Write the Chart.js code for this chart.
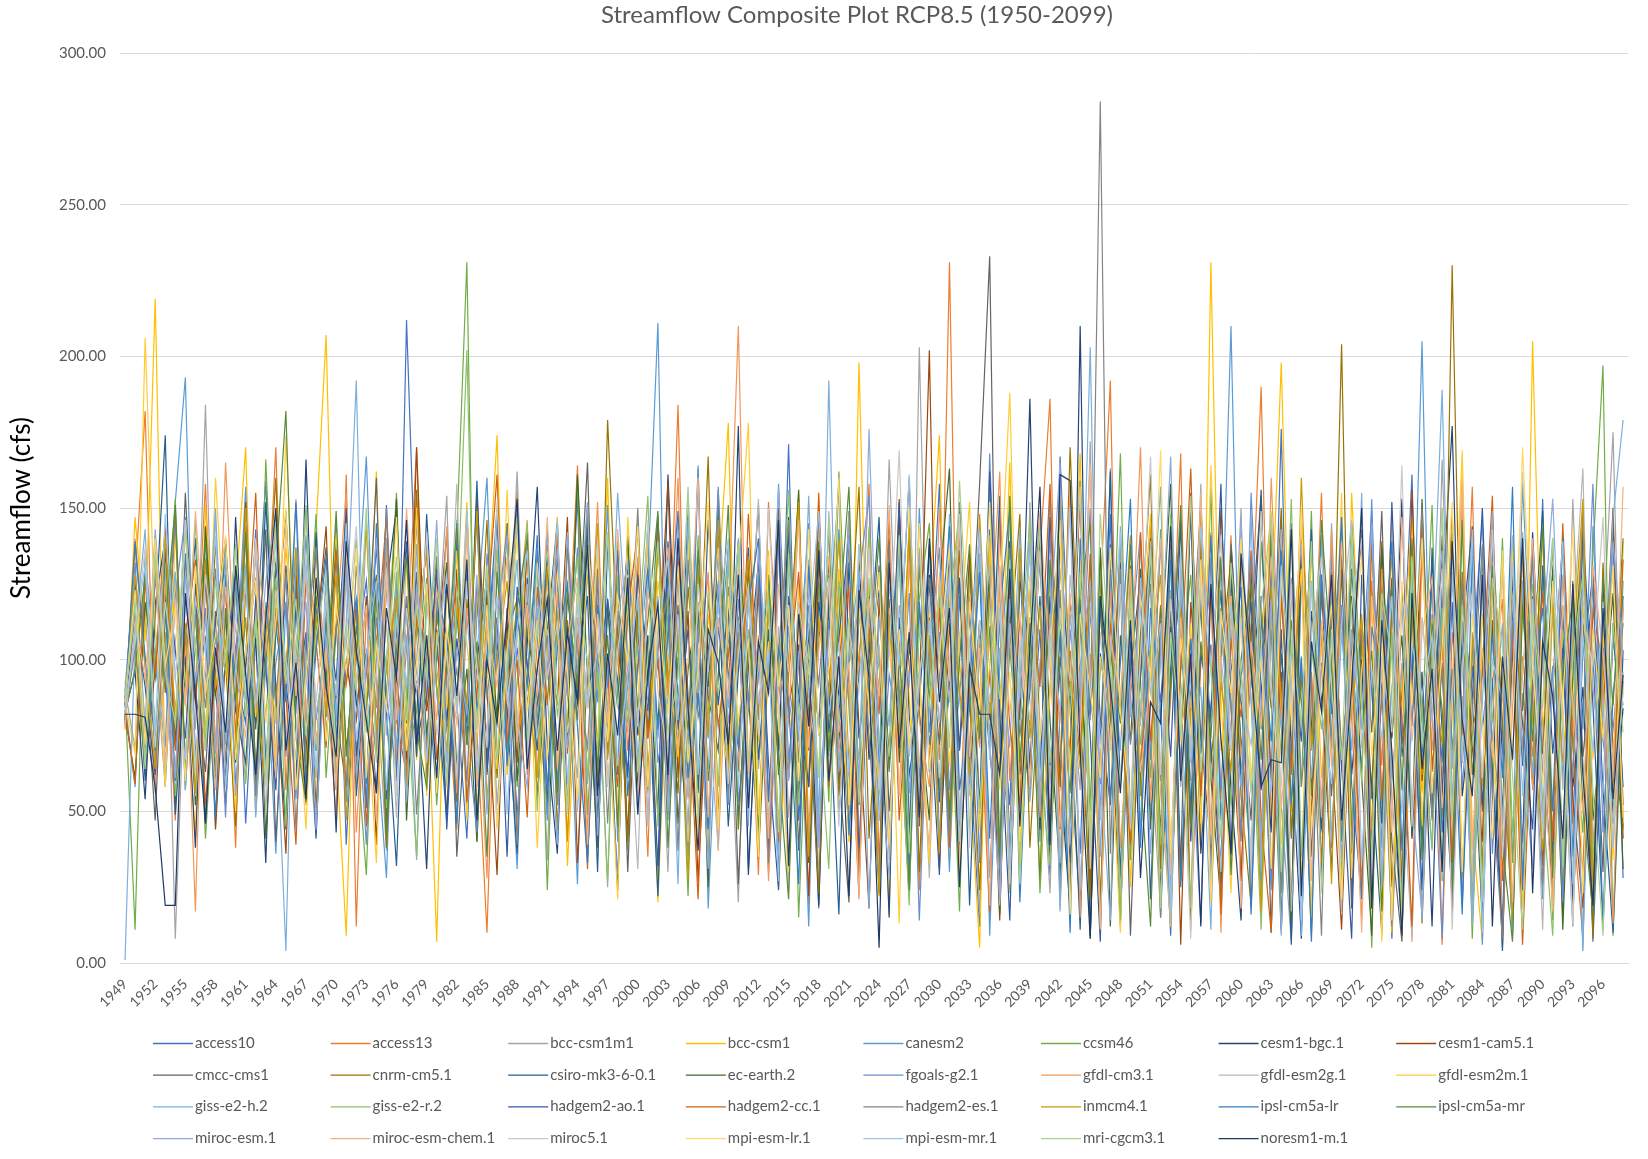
<!DOCTYPE html>
<html>
<head>
<meta charset="utf-8">
<title>Streamflow Composite Plot RCP8.5 (1950-2099)</title>
<script src="https://cdn.jsdelivr.net/npm/chart.js@4.4.1/dist/chart.umd.min.js"></script>
<style>
  html, body { margin: 0; padding: 0; background: #ffffff; }
  #wrap { width: 1648px; height: 1159px; }
</style>
</head>
<body>
<div id="wrap"><canvas id="chart" width="1648" height="1159"></canvas></div>
<script>
// Water years shown on the category axis
const firstYear = 1949;
const lastYear = 2098;
const years = [];
for (let y = firstYear; y <= lastYear; y++) years.push(String(y));

const chartTitle = 'Streamflow Composite Plot RCP8.5 (1950-2099)';
const yAxisTitle = 'Streamflow (cfs)';

const modelNames = [
  'access10', 'access13', 'bcc-csm1m1', 'bcc-csm1', 'canesm2', 'ccsm46', 'cesm1-bgc.1', 'cesm1-cam5.1',
  'cmcc-cms1', 'cnrm-cm5.1', 'csiro-mk3-6-0.1', 'ec-earth.2', 'fgoals-g2.1', 'gfdl-cm3.1', 'gfdl-esm2g.1', 'gfdl-esm2m.1',
  'giss-e2-h.2', 'giss-e2-r.2', 'hadgem2-ao.1', 'hadgem2-cc.1', 'hadgem2-es.1', 'inmcm4.1', 'ipsl-cm5a-lr', 'ipsl-cm5a-mr',
  'miroc-esm.1', 'miroc-esm-chem.1', 'miroc5.1', 'mpi-esm-lr.1', 'mpi-esm-mr.1', 'mri-cgcm3.1', 'noresm1-m.1'
];

const modelColors = [
  '#4472C4', '#ED7D31', '#A5A5A5', '#FFC000', '#5B9BD5', '#70AD47', '#264478', '#9E480E',
  '#636363', '#997300', '#255E91', '#43682B', '#698ED0', '#F1975A', '#B7B7B7', '#FFCD33',
  '#7CAFDD', '#8CC168', '#335AA1', '#D26012', '#848484', '#CC9A00', '#327DC3', '#5A8A39',
  '#8FAADC', '#F4B183', '#C9C9C9', '#FFD966', '#9DC3E6', '#A9D18E', '#203864'
];

const yTicks = [0, 50, 100, 150, 200, 250, 300];

// Annual streamflow (cfs), one array per climate model, 1949-2098
const access10 = [
  84,112,67,138,95,52,121,88,143,71, 99,128,46,107,159,63,92,134,58,117,
  81,145,39,102,126,74,151,60,212,113, 97,55,132,86,41,118,94,147,67,104,
  73,136,49,122,88,154,35,96,119,62, 141,78,105,27,130,90,58,163,44,111,
  85,139,31,98,124,66,171,47,93,18, 127,76,149,38,108,61,135,82,22,116,
  94,158,43,121,69,12,143,87,52,131, 64,110,29,167,91,36,125,73,148,15,
  102,57,134,83,9,118,45,152,71,26, 139,88,33,112,61,176,41,97,14,128,
  72,145,24,106,54,131,8,89,161,37, 115,66,142,19,98,50,137,77,11,124,
  59,153,32,101,46,119,7,85,140,28
];
const access13 = [
  78,126,182,64,109,47,133,91,158,69, 117,38,144,86,102,170,57,123,79,136,
  95,48,161,12,118,84,140,66,103,170, 58,127,92,44,149,76,10,113,87,156,
  62,105,138,53,96,164,41,121,80,133, 70,112,35,146,89,184,55,99,128,46,
  137,74,109,29,152,93,61,118,19,142, 85,124,50,97,158,33,115,71,139,24,
  104,67,231,42,129,88,15,147,60,113, 78,135,186,26,94,152,39,121,192,20,
  110,63,144,35,87,168,11,99,125,54, 141,28,106,190,47,92,9,133,72,155,
  38,117,81,14,126,65,149,22,98,57, 134,6,109,75,157,31,92,120,13,101,
  68,143,25,113,48,8,130,79,36,118
];
const bccCsm1m1 = [
  90,71,118,56,134,8,102,77,184,63, 112,89,141,49,97,126,68,153,84,42,
  131,75,108,59,146,93,37,119,81,138, 66,101,154,45,114,79,129,52,96,162,
  71,117,34,135,88,61,148,99,25,124, 83,145,56,107,30,131,76,118,41,156,
  92,20,127,64,103,143,48,86,133,27, 115,72,149,39,98,58,166,81,21,203,
  63,125,44,108,87,16,141,69,119,35, 152,78,23,130,95,57,172,13,106,84,
  46,139,71,17,123,92,60,158,30,111, 76,150,18,99,134,52,7,127,86,43,
  145,63,110,26,94,137,55,12,121,80, 37,166,70,104,22,128,59,95,9,142,
  81,49,116,33,153,67,14,108,175,44
];
const bccCsm1 = [
  80,147,106,219,61,129,88,42,151,97, 66,122,170,53,110,79,137,94,59,143,
  207,71,9,118,85,162,50,104,131,67, 98,7,125,83,152,46,114,174,62,93,
  135,55,108,147,32,96,128,71,160,48, 117,84,139,20,102,65,150,90,37,124,
  178,44,109,73,136,25,97,155,58,115, 81,130,40,198,69,103,16,145,87,52,
  120,174,33,100,61,5,139,77,165,29, 108,54,131,18,92,168,42,116,71,137,
  25,99,148,63,12,119,83,37,231,70, 93,47,127,15,109,198,75,28,138,61,
  102,20,155,86,41,122,10,95,147,56, 114,31,80,162,44,7,131,69,101,23,
  205,76,118,37,90,150,16,124,62,139
];
const canesm2 = [
  86,58,134,99,71,152,193,64,117,45, 128,93,157,61,104,36,119,82,141,70,
  96,133,53,112,167,74,28,125,89,146, 57,103,81,139,48,115,160,69,92,31,
  122,77,144,59,106,26,135,86,151,40, 99,64,128,211,47,110,72,164,18,95,
  137,53,84,121,34,158,79,102,12,126, 68,143,91,23,117,56,134,85,43,150,
  76,109,30,127,62,145,9,98,137,51, 114,40,156,73,19,132,88,60,163,27,
  105,142,49,87,14,121,67,138,35,96, 210,58,112,24,147,79,8,129,91,45,
  136,17,101,64,153,38,118,10,83,205, 52,124,29,97,140,6,112,70,35,158,
  88,21,131,61,109,4,144,73,50,126
];
const ccsm46 = [
  88,11,131,77,102,153,62,120,41,96, 139,70,114,55,166,87,47,124,93,148,
  61,109,136,73,29,118,98,155,66,83, 127,52,101,142,231,40,112,79,145,58,
  95,133,24,116,76,160,49,103,85,139, 37,121,91,148,64,107,22,130,80,155,
  59,100,134,42,118,71,146,15,97,125, 53,162,84,31,110,68,139,92,26,120,
  145,57,98,17,131,75,159,40,104,63, 127,23,90,152,46,115,8,135,78,168,
  34,109,61,143,20,96,128,52,157,13, 116,74,33,139,87,10,124,58,149,29,
  98,141,45,107,5,132,66,19,117,79, 151,27,92,126,8,103,56,140,33,89,
  61,128,14,107,76,43,135,197,9,93
];
const cesm1Bgc = [
  83,96,54,118,140,72,101,38,126,89, 61,147,79,107,33,132,94,58,166,70,
  115,43,138,85,102,56,124,150,67,93, 31,119,78,141,52,99,128,64,113,47,
  105,157,71,36,122,89,143,59,96,24, 130,75,108,49,161,83,40,117,91,137,
  63,177,29,98,125,70,147,54,109,19, 120,88,44,134,67,102,15,149,81,55,
  128,36,95,151,58,113,72,27,139,80, 186,44,121,63,17,210,9,102,76,132,
  49,94,138,22,111,65,150,36,84,123, 57,14,129,92,43,145,70,8,116,87,
  30,137,62,100,19,126,74,153,41,96, 12,118,177,55,86,26,131,68,103,39,
  142,73,22,115,58,91,11,127,46,84
];
const cesm1Cam5 = [
  79,123,64,97,141,52,110,86,133,44, 101,75,152,60,118,92,36,128,70,106,
  144,57,99,80,121,39,135,95,62,170, 83,110,48,130,73,155,90,29,117,66,
  138,54,103,86,147,33,96,124,69,112, 42,131,77,99,158,61,116,27,94,143,
  70,109,51,126,35,150,84,105,22,133, 97,59,141,78,18,120,67,153,44,88,
  202,31,112,71,135,49,97,14,126,82, 56,148,37,101,69,159,25,118,90,12,
  131,64,98,43,144,6,119,75,38,150, 84,27,109,154,58,96,17,136,48,122,
  69,11,103,141,35,88,127,24,156,60, 97,133,16,112,71,40,148,5,104,67,
  121,32,93,139,54,18,110,81,150,41
];
const cmccCms1 = [
  85,138,98,47,122,71,155,90,63,116, 52,104,130,77,143,40,99,125,68,108,
  137,82,58,119,95,160,46,111,74,129, 61,101,142,35,88,123,66,150,79,43,
  115,92,54,136,72,104,165,48,97,127, 30,109,83,147,60,118,41,139,88,70,
  124,26,102,151,55,93,134,37,112,78, 143,63,20,117,86,131,50,98,160,45,
  107,72,136,28,94,158,233,19,121,62, 89,145,34,110,68,17,132,81,52,127,
  9,96,140,60,116,32,155,73,105,21, 138,86,47,121,10,102,67,143,35,99,
  55,130,18,112,76,149,40,7,123,91, 48,141,70,105,24,135,62,13,118,83,
  137,42,97,15,126,68,102,30,145,52
];
const cnrmCm5 = [
  81,105,62,130,89,148,57,115,76,138, 99,45,124,84,107,160,69,95,132,51,
  118,87,142,64,100,128,38,112,79,156, 70,134,93,53,120,86,146,61,108,120,
  66,97,131,44,113,80,152,58,179,103, 40,116,74,139,95,56,124,85,167,48,
  109,72,131,36,98,147,61,119,83,23, 128,55,102,157,41,93,120,68,145,30,
  114,79,51,136,89,24,125,63,104,148, 38,97,129,58,170,82,21,118,73,139,
  47,108,161,31,92,125,14,141,66,100, 133,55,19,117,84,150,42,96,9,128,
  71,204,36,110,57,139,25,88,119,13, 94,48,230,66,105,29,143,79,11,120,
  59,101,137,23,84,118,8,132,71,45
];
const csiroMk3 = [
  87,126,60,113,174,49,96,140,70,108, 133,58,101,79,152,91,44,118,64,142,
  75,110,131,55,99,137,83,32,121,68, 148,90,47,116,72,159,63,105,84,36,
  127,78,109,145,52,98,121,30,139,87, 61,133,94,22,115,70,148,56,103,125,
  45,96,137,67,110,28,143,81,58,119, 90,16,132,74,101,147,39,114,62,85,
  138,53,92,127,19,108,70,154,34,99, 66,121,43,140,87,11,118,59,162,28,
  106,80,135,15,97,146,50,120,71,33, 127,62,92,156,26,110,6,138,79,44,
  116,30,145,86,59,10,123,68,101,37, 133,77,21,109,144,52,94,4,128,65,
  98,149,36,112,17,85,125,57,10,103
];
const ecEarth2 = [
  82,61,119,94,137,73,108,52,144,88, 115,66,98,127,41,109,149,78,56,121,
  93,139,70,104,59,126,86,153,47,114, 76,102,132,64,97,40,123,81,145,60,
  110,87,53,129,74,161,95,38,117,84, 140,58,105,79,133,46,97,119,25,151,
  69,113,88,41,127,62,99,156,33,107, 131,77,54,118,92,23,140,66,104,83,
  47,125,163,37,98,72,131,16,115,90, 57,144,80,29,119,95,51,137,12,108,
  73,130,44,102,158,27,89,117,61,20, 135,70,99,39,124,83,14,147,56,111,
  90,28,121,61,9,137,75,108,42,153, 64,97,33,125,80,15,113,50,139,26,
  105,69,130,11,96,140,47,82,122,31
];
const fgoalsG2 = [
  90,132,76,104,58,121,147,69,95,112, 48,126,87,140,63,99,118,54,133,80,
  107,71,145,92,39,114,83,128,61,100, 138,57,94,120,76,43,135,101,68,150,
  85,112,47,126,91,137,60,104,79,29, 118,96,144,66,87,130,35,109,74,157,
  52,120,84,106,30,139,67,98,145,40, 113,82,61,127,154,47,95,76,122,14,
  101,137,57,89,120,33,168,72,44,128, 96,60,143,21,110,81,150,49,130,16,
  88,119,67,140,35,102,75,13,134,57, 110,42,155,86,24,126,64,100,12,141,
  73,118,38,95,149,51,107,20,132,66, 84,8,129,58,101,146,36,90,119,29,
  136,62,98,20,121,77,158,43,106,85
];
const gfdlCm3 = [
  77,140,98,57,125,84,110,17,133,70, 165,92,60,119,103,145,74,97,52,128,
  86,112,155,43,100,67,136,90,62,121, 104,80,144,56,117,92,28,131,75,109,
  146,63,98,122,41,114,85,152,59,101, 76,134,48,110,88,160,54,97,129,37,
  115,210,62,136,27,98,79,148,44,109, 125,70,93,21,143,85,111,55,132,80,
  58,150,97,34,121,71,106,162,26,92, 137,48,115,79,157,15,102,64,123,38,
  90,170,53,112,24,131,76,99,142,10, 121,68,103,36,160,80,127,21,95,53,
  142,44,86,113,18,130,61,99,7,135, 70,112,49,153,28,96,124,10,84,136,
  57,103,22,128,74,145,39,91,13,117
];
const gfdlEsm2g = [
  92,117,80,141,63,106,129,55,99,146, 73,111,88,135,49,124,95,67,150,82,
  103,59,127,90,144,71,113,48,136,96, 66,120,85,158,57,101,76,139,93,42,
  125,81,110,65,142,50,97,130,73,116, 89,31,128,104,69,147,56,119,83,38,
  135,72,98,153,46,111,24,126,88,61, 149,95,50,120,77,105,34,139,68,97,
  28,118,86,143,55,100,131,19,112,74, 145,62,108,33,128,91,165,47,96,22,
  117,78,139,56,13,124,84,152,39,101, 70,133,25,110,92,143,17,86,126,48,
  102,16,137,71,94,31,148,60,9,114, 79,150,42,99,128,20,106,65,141,34,
  92,11,123,57,110,163,26,87,46,119
];
const gfdlEsm2m = [
  86,69,206,111,58,141,92,127,74,160, 104,50,132,81,119,66,174,95,44,123,
  98,142,61,115,88,33,129,105,71,150, 55,109,84,136,47,122,97,64,156,80,
  118,38,105,142,76,99,61,134,88,21, 147,93,57,126,101,68,140,42,115,87,
  62,131,178,49,106,81,30,124,95,143, 71,111,40,138,86,59,117,13,150,96,
  33,128,65,107,152,44,99,120,188,52, 114,27,90,146,63,135,38,101,78,10,
  125,56,99,16,140,73,112,46,164,88, 23,118,61,103,149,39,90,130,15,110,
  66,155,28,97,121,7,112,83,137,45, 126,58,93,169,26,115,72,40,136,18,
  101,141,52,86,12,120,67,109,34,137
];
const gissE2h = [
  1,108,143,66,97,129,57,114,88,150, 72,102,131,48,119,84,4,137,95,61,
  126,80,112,192,53,99,140,71,108,34, 119,90,61,146,78,104,127,45,95,133,
  68,116,88,39,141,97,59,122,80,155, 102,49,131,74,113,26,146,90,64,119,
  84,140,57,97,126,36,111,73,154,47, 192,63,101,129,18,114,78,140,56,94,
  122,40,148,87,60,135,28,104,71,143, 53,99,130,17,115,84,203,35,112,70,
  140,45,103,157,24,126,66,91,11,133, 87,58,148,30,110,77,127,9,98,141,
  40,109,70,155,23,118,61,96,132,14, 104,189,55,88,20,137,73,112,8,126,
  62,98,140,31,115,6,103,79,147,179
];
const gissE2r = [
  84,120,67,103,132,55,91,146,72,109, 96,138,59,114,81,127,45,100,151,70,
  117,62,94,140,76,108,51,129,88,35, 124,97,70,113,202,58,100,136,67,92,
  145,50,119,82,103,134,61,96,27,128, 79,107,154,45,120,86,63,141,99,58,
  132,74,110,38,123,91,156,52,104,80, 31,126,95,67,144,55,113,84,19,137,
  93,61,118,150,42,107,76,128,23,101, 146,65,32,121,88,159,50,96,114,14,
  127,72,105,39,148,83,18,131,60,97, 52,140,86,11,118,68,153,35,104,77,
  123,27,95,60,142,46,109,15,131,83, 38,117,65,145,12,102,80,133,43,96,
  125,53,9,110,81,138,33,99,66,121
];
const hadgem2Ao = [
  80,115,91,62,136,103,74,125,46,112, 140,83,66,120,97,57,131,86,109,41,
  118,93,150,68,101,127,54,96,139,73, 88,130,44,107,79,148,62,114,35,124,
  99,70,136,56,111,87,145,40,120,93, 63,128,101,32,139,77,110,58,146,85,
  117,48,97,132,66,24,121,89,58,150, 76,107,140,36,97,123,64,152,42,111,
  87,29,134,70,115,51,162,83,14,126, 104,60,147,92,33,120,75,7,138,59,
  96,128,21,113,68,145,40,102,82,158, 35,94,119,57,132,12,106,73,143,28,
  111,65,8,128,90,46,152,72,101,24, 137,56,119,31,87,150,63,10,116,79,
  44,131,69,104,22,143,85,13,112,58
];
const hadgem2Cc = [
  83,59,126,95,144,70,108,133,52,97, 122,76,101,155,63,117,88,39,128,106,
  71,136,92,117,45,104,147,80,62,113, 135,67,98,126,53,90,115,161,72,100,
  48,124,85,141,69,108,31,130,94,58, 116,142,74,100,55,134,89,21,121,78,
  103,63,148,84,117,40,95,129,70,155, 58,100,124,29,111,82,147,47,96,135,
  66,117,38,143,89,104,17,130,78,52, 125,91,158,44,103,68,135,20,112,84,
  39,142,73,118,30,98,163,55,124,16, 107,81,136,47,10,121,62,146,90,33,
  128,70,101,22,139,54,115,82,12,148, 63,106,34,129,76,95,154,27,110,6,
  88,122,40,145,71,30,116,98,55,133
];
const hadgem2Es = [
  81,104,72,127,93,146,61,115,84,130, 67,99,142,55,118,86,129,44,107,137,
  75,112,58,131,96,69,150,83,121,49, 102,134,77,97,60,125,88,112,144,39,
  119,80,108,52,137,94,71,128,46,116, 90,150,63,105,122,37,133,81,99,140,
  56,113,87,128,33,102,146,66,118,92, 134,48,99,117,75,26,138,86,109,61,
  127,95,42,152,69,113,86,31,137,75, 100,148,57,123,20,111,80,284,36,130,
  72,102,125,15,138,64,98,151,29,117, 85,40,134,77,110,23,145,58,96,9,
  129,68,107,143,32,90,12,124,78,150, 47,99,19,126,82,138,55,8,113,71,
  135,26,92,118,61,149,18,104,77,112
];
const inmcm4 = [
  88,127,99,64,141,78,112,56,133,91, 106,72,150,87,59,124,98,137,65,115,
  82,128,47,104,143,77,96,121,58,109, 136,91,70,118,84,149,53,100,126,73,
  95,61,131,108,40,122,86,145,67,104, 120,79,57,138,93,111,28,129,75,146,
  60,105,134,81,117,46,98,152,35,113, 89,140,66,102,125,22,115,74,143,55,
  108,36,130,90,62,148,80,112,25,137, 74,118,49,155,96,64,127,12,104,86,
  141,55,99,128,34,116,78,149,20,93, 63,132,103,17,124,88,50,160,70,108,
  26,139,81,115,44,98,134,9,119,62, 101,72,150,28,109,58,126,94,14,137,
  80,37,121,66,103,153,24,96,130,48
];
const ipslCm5aLr = [
  85,139,101,73,118,60,135,92,107,48, 126,95,79,143,67,111,86,152,58,103,
  134,74,99,120,51,145,88,63,116,97, 70,122,108,46,130,84,101,150,65,115,
  91,141,57,104,125,78,33,118,92,136, 55,98,130,77,107,149,61,89,44,124,
  96,71,118,140,53,104,86,26,131,75, 109,158,42,95,121,66,103,136,30,119,
  72,101,144,57,84,129,41,115,150,20, 98,132,65,109,10,140,82,121,54,99,
  153,38,117,86,133,25,107,69,141,47, 96,124,16,115,73,136,52,101,7,128,
  82,147,59,21,111,90,139,37,104,68, 125,43,97,16,134,77,108,61,157,24,
  93,117,50,140,35,102,128,11,88,121
];
const ipslCm5aMr = [
  82,97,128,70,112,151,66,104,139,58, 117,86,142,63,100,131,182,75,53,121,
  90,149,68,111,83,127,42,103,134,77, 58,114,96,145,72,106,35,129,88,118,
  140,75,99,56,123,90,150,64,108,45, 127,84,113,149,38,101,77,136,60,94,
  151,44,107,80,128,65,21,118,98,139, 70,113,157,52,96,140,63,107,24,131,
  87,123,47,100,138,74,111,35,154,66, 112,27,133,95,56,121,145,18,103,79,
  138,61,12,117,90,151,44,106,74,134, 29,100,125,67,141,11,113,86,55,146,
  98,40,130,77,103,17,124,57,140,34, 112,84,23,146,62,100,131,39,7,118,
  73,145,28,96,120,52,16,127,85,140
];
const mirocEsm = [
  89,121,76,143,100,61,128,93,113,70, 135,55,104,86,126,148,68,97,119,44,
  107,83,131,62,99,140,75,115,53,124, 92,146,66,103,82,128,49,111,141,79,
  58,120,95,137,71,105,152,42,97,115, 132,67,88,121,50,143,80,104,31,126,
  79,113,45,136,93,157,60,101,122,38, 110,85,141,59,176,71,28,118,92,135,
  63,104,127,47,96,143,73,21,120,87, 139,52,110,165,39,98,126,63,14,144,
  81,119,36,101,167,58,94,129,23,112, 70,145,87,40,120,9,103,138,61,97,
  124,33,109,77,145,25,91,118,52,16, 99,136,64,112,13,86,149,45,120,70,
  31,108,153,75,12,126,91,56,139,101
];
const mirocEsmChem = [
  78,113,94,133,66,120,85,149,102,57, 124,98,74,139,110,61,145,88,129,72,
  104,57,136,92,118,47,127,80,150,98, 66,123,101,79,142,58,112,91,134,73,
  118,88,147,64,105,127,39,115,79,143, 93,55,122,106,137,70,99,160,48,114,
  87,130,62,108,41,125,96,146,71,103, 134,76,99,23,120,88,151,55,110,67,
  39,127,93,144,68,104,19,131,82,116, 58,149,97,45,122,76,164,11,108,87,
  130,63,95,140,29,114,70,155,42,99, 121,18,106,78,134,51,92,145,27,113,
  66,139,88,10,120,97,43,147,73,108, 127,51,90,159,37,104,68,129,20,96,
  140,75,17,118,86,49,131,102,63,157
];
const miroc5 = [
  84,106,137,71,119,93,146,63,128,99, 77,115,91,140,58,123,100,73,135,86,
  121,69,108,144,81,96,130,55,117,90, 142,75,103,62,126,98,71,152,87,109,
  65,132,94,112,49,121,84,139,58,103, 128,78,146,90,68,115,40,125,96,137,
  59,102,124,75,150,86,35,118,97,64, 127,45,110,90,137,57,102,169,70,94,
  121,61,99,148,38,113,86,131,26,107, 80,136,54,117,93,157,31,109,70,125,
  44,101,167,62,120,83,8,128,97,141, 70,114,33,149,88,58,125,20,107,134,
  91,52,118,140,29,101,76,164,45,112, 87,130,11,97,122,61,143,35,92,162,
  106,41,125,80,13,114,98,147,55,89
];
const mpiEsmLr = [
  86,123,72,140,98,117,60,131,89,108, 141,67,103,126,79,112,150,57,94,129,
  73,118,96,137,61,105,84,147,70,99, 125,56,110,88,134,76,118,44,102,140,
  83,113,67,129,96,54,138,106,73,121, 99,144,58,116,82,131,66,97,152,44,
  121,80,107,35,134,91,118,60,143,75, 98,160,52,117,84,129,39,110,71,145,
  64,101,137,28,119,83,152,57,96,40, 128,73,104,143,16,115,90,61,137,83,
  52,121,94,169,36,107,75,133,20,116, 89,140,57,102,31,128,81,150,44,93,
  118,21,99,134,68,111,14,126,85,140, 56,104,152,30,115,78,41,136,66,170,
  97,59,126,86,143,23,110,74,131,48
];
const mpiEsmMr = [
  82,109,131,76,148,94,67,120,102,141, 58,97,124,85,112,139,70,106,131,62,
  119,88,145,73,101,126,57,114,92,134, 67,104,128,82,150,63,97,121,49,110,
  136,74,100,146,59,118,87,103,141,65, 95,121,45,109,133,80,157,62,98,116,
  140,57,119,86,102,27,131,76,111,149, 82,105,63,138,92,47,124,98,161,54,
  113,79,129,40,106,142,67,117,31,96, 135,60,108,84,150,24,119,72,101,142,
  46,127,89,112,17,136,67,144,98,30, 118,88,72,104,56,131,92,14,125,83,
  59,112,146,33,97,74,121,49,105,88, 108,28,129,66,143,10,100,87,132,55,
  120,46,91,139,26,108,70,119,38,96
];
const mriCgcm3 = [
  87,118,64,135,96,79,142,105,70,126, 100,137,81,114,61,145,92,120,75,108,
  128,70,111,90,150,66,101,134,80,117, 94,140,58,123,105,77,131,67,99,147,
  73,110,136,88,52,125,99,71,142,84, 118,63,101,139,76,94,156,47,123,89,
  107,138,66,99,119,43,135,82,104,61, 146,79,114,53,127,98,68,141,36,111,
  85,124,71,159,96,50,117,87,133,26, 102,143,66,114,81,129,38,148,95,59,
  121,84,136,18,109,75,154,63,99,41, 132,95,56,117,148,30,106,79,139,23,
  110,67,143,85,36,122,100,15,134,72, 93,150,47,118,81,25,127,104,62,11,
  115,84,140,32,101,128,57,9,112,76
];
const noresm1M = [
  82,82,81,58,19,19,122,88,46,104, 76,131,95,62,113,150,70,99,54,127,
  91,68,139,103,80,56,117,94,146,72, 108,61,125,88,133,47,100,79,115,153,
  64,97,120,70,109,86,138,55,102,75, 127,49,96,118,62,140,84,37,110,99,
  72,128,51,106,89,146,32,115,78,136, 60,101,22,123,94,5,132,71,109,48,
  140,86,117,25,98,82,82,62,130,45, 104,157,39,161,159,70,8,121,92,56,
  113,28,86,79,144,60,102,12,125,74, 36,135,97,58,67,66,143,22,106,83,
  128,47,91,150,18,113,70,9,122,64, 97,30,139,80,55,128,12,101,67,140,
  23,106,88,41,125,62,19,117,54,95
];

const seriesValues = [
  access10, access13, bccCsm1m1, bccCsm1, canesm2, ccsm46, cesm1Bgc, cesm1Cam5,
  cmccCms1, cnrmCm5, csiroMk3, ecEarth2, fgoalsG2, gfdlCm3, gfdlEsm2g, gfdlEsm2m,
  gissE2h, gissE2r, hadgem2Ao, hadgem2Cc, hadgem2Es, inmcm4, ipslCm5aLr, ipslCm5aMr,
  mirocEsm, mirocEsmChem, miroc5, mpiEsmLr, mpiEsmMr, mriCgcm3, noresm1M
];

const FONT = 'Lato, "Liberation Sans", sans-serif';
const TEXT_GREY = '#595959';

const datasets = modelNames.map((name, i) => ({
  label: name,
  data: seriesValues[i],
  borderColor: modelColors[i],
  backgroundColor: modelColors[i],
  borderWidth: 1.2,
  pointRadius: 0,
  pointHoverRadius: 0,
  tension: 0,
  fill: false,
  // later series are painted over earlier ones
  order: modelNames.length - i
}));

// Chart heading, centred a little right of the canvas middle over the plot
const heading = {
  id: 'heading',
  afterDraw(chart) {
    const ctx = chart.ctx;
    ctx.save();
    ctx.font = '24px ' + FONT;
    ctx.fillStyle = TEXT_GREY;
    ctx.textAlign = 'center';
    ctx.textBaseline = 'middle';
    ctx.fillText(chartTitle, 857, 15);
    ctx.restore();
  }
};

// Legend laid out as a fixed 8-column grid under the axis
const gridLegend = {
  id: 'gridLegend',
  afterDraw(chart) {
    const ctx = chart.ctx;
    const cols = 8;
    const x0 = 153, colW = 177.6;
    const y0 = 1043, rowH = 31.7;
    const lineLen = 40;
    ctx.save();
    ctx.font = '15px ' + FONT;
    ctx.textBaseline = 'middle';
    ctx.textAlign = 'left';
    chart.data.datasets.forEach((ds, i) => {
      const col = i % cols;
      const row = Math.floor(i / cols);
      const x = x0 + col * colW;
      const y = y0 + row * rowH;
      ctx.strokeStyle = ds.borderColor;
      ctx.lineWidth = 1.3;
      ctx.beginPath();
      ctx.moveTo(x, y + 0.5);
      ctx.lineTo(x + lineLen, y + 0.5);
      ctx.stroke();
      ctx.fillStyle = TEXT_GREY;
      ctx.fillText(ds.label, x + lineLen + 2, y);
    });
    ctx.restore();
  }
};

new Chart(document.getElementById('chart'), {
  type: 'line',
  data: { labels: years, datasets },
  plugins: [heading, gridLegend],
  options: {
    responsive: false,
    animation: false,
    devicePixelRatio: 1,
    events: [],
    layout: { padding: { left: 0, right: 7, top: 53, bottom: 0 } },
    plugins: {
      legend: { display: false },
      tooltip: { enabled: false },
      title: { display: false }
    },
    scales: {
      x: {
        type: 'category',
        offset: true,
        grid: { display: false, drawTicks: false },
        border: { display: true, color: '#D9D9D9', width: 1 },
        ticks: {
          autoSkip: false,
          minRotation: 45,
          maxRotation: 45,
          padding: 13,
          color: TEXT_GREY,
          font: { family: FONT, size: 14 },
          callback: function (value, index) {
            return index % 3 === 0 ? this.getLabelForValue(value) : '';
          }
        },
        afterFit(scale) { scale.height = 196; }
      },
      y: {
        min: 0,
        max: 300,
        afterBuildTicks(scale) { scale.ticks = yTicks.map(v => ({ value: v })); },
        grid: { color: '#D9D9D9', lineWidth: 1, drawTicks: false },
        border: { display: false },
        ticks: {
          padding: 14,
          color: TEXT_GREY,
          font: { family: FONT, size: 15 },
          callback: (v) => Number(v).toFixed(2)
        },
        title: {
          display: true,
          text: yAxisTitle,
          color: '#000000',
          font: { family: FONT, size: 26 },
          padding: { top: 6, bottom: 0 }
        },
        afterFit(scale) { scale.width = 120; }
      }
    }
  }
});
</script>
</body>
</html>
